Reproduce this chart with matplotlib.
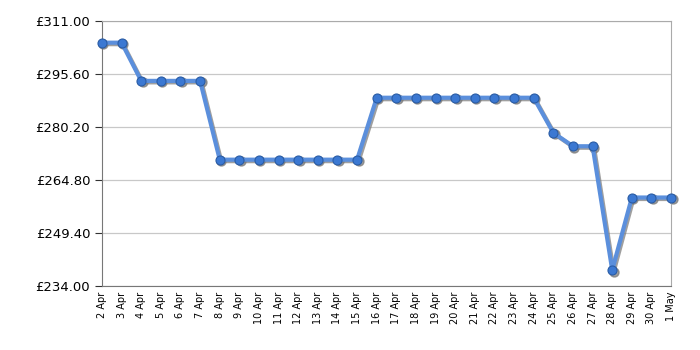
import matplotlib
matplotlib.use('Agg')
import matplotlib.pyplot as plt
from matplotlib.transforms import ScaledTranslation

days = ['2 Apr', '3 Apr', '4 Apr', '5 Apr', '6 Apr', '7 Apr', '8 Apr', '9 Apr', '10 Apr',
        '11 Apr', '12 Apr', '13 Apr', '14 Apr', '15 Apr', '16 Apr', '17 Apr', '18 Apr',
        '19 Apr', '20 Apr', '21 Apr', '22 Apr', '23 Apr', '24 Apr', '25 Apr', '26 Apr',
        '27 Apr', '28 Apr', '29 Apr', '30 Apr', '1 May']
prices = [304.7, 304.7, 293.6, 293.6, 293.6, 293.6, 270.7, 270.7, 270.7,
          270.7, 270.7, 270.7, 270.7, 270.7, 288.7, 288.7, 288.7,
          288.7, 288.7, 288.7, 288.7, 288.7, 288.7, 278.5, 274.6,
          274.6, 238.6, 259.7, 259.7, 259.7]
yticks = [234.0, 249.4, 264.8, 280.2, 295.6, 311.0]

x = list(range(len(days)))

fig = plt.figure(figsize=(7, 3.5), dpi=100)
ax = fig.add_axes([0.1457, 0.183, 0.813, 0.757])

# shadow, shifted a little right and down
shift = ax.transData + ScaledTranslation(1.5 / 100, -1.5 / 100, fig.dpi_scale_trans)
ax.plot(x, prices, color='#777777', lw=3, marker='o', ms=6.5, mfc='#777777',
        mec='#777777', alpha=0.7, transform=shift, zorder=2, clip_on=False)
ax.plot(x, prices, color='#5b8fdc', lw=3, marker='o', ms=6.5,
        mfc='#3b78d2', mec='#2a5ca5', mew=0.8, zorder=3, clip_on=False)

ax.set_xlim(0, len(days) - 1)
ax.set_ylim(yticks[0], yticks[-1])

ax.set_xticks(x)
ax.set_xticklabels(days, rotation=90, fontsize=7)
ax.tick_params(axis='x', which='major', length=0, pad=4)
ax.set_xticks(x[2::3], minor=True)
ax.tick_params(axis='x', which='minor', length=4, color='#333333')
ax.grid(which='minor', axis='x', color='#c8c8c8', lw=0.9)

ax.set_yticks(yticks)
ax.set_yticklabels(['£%.2f' % v for v in yticks], fontsize=9.5)
ax.tick_params(axis='y', length=5, color='#333333')
ax.grid(which='major', axis='y', color='#c8c8c8', lw=0.9)
ax.set_axisbelow(True)

for s in ax.spines.values():
    s.set_color('#aaaaaa')
ax.spines['left'].set_color('#777777')
ax.spines['bottom'].set_color('#777777')

fig.savefig('out.png', dpi=100)
